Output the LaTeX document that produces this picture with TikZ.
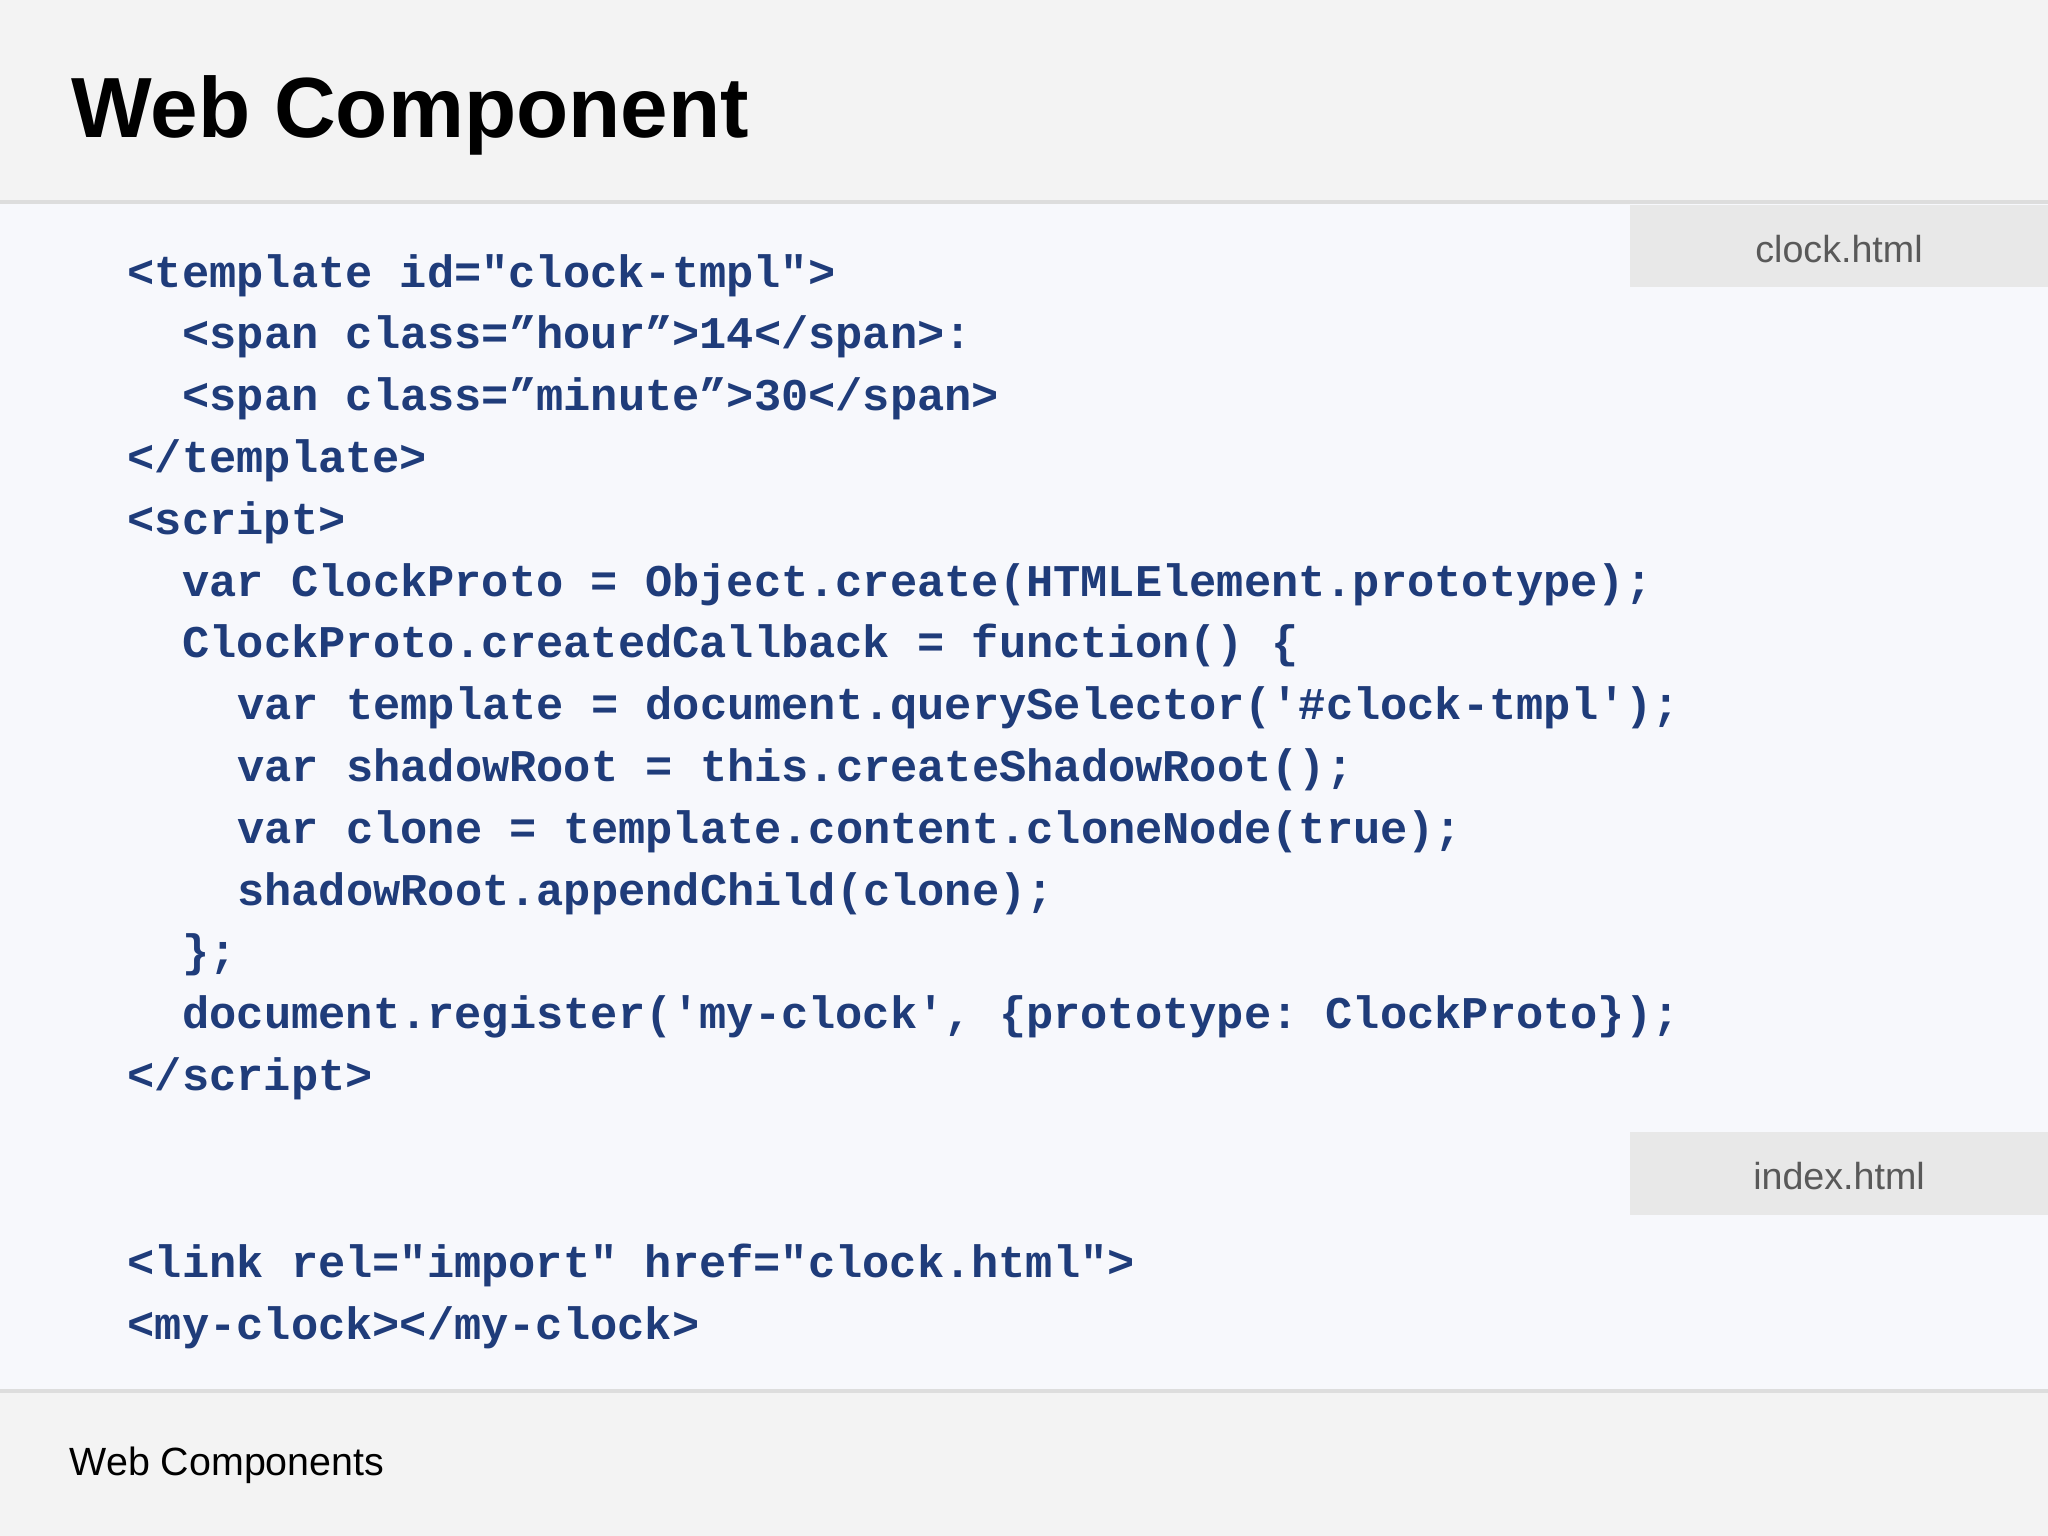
\documentclass[tikz,border=0pt]{standalone}
\usepackage{fontspec}
\setmainfont{Liberation Sans}
\setmonofont{Liberation Mono}[Ligatures=ResetAll]
\definecolor{codeblue}{HTML}{1F3C7A}
\definecolor{bodybg}{HTML}{F7F8FC}
\definecolor{headbg}{HTML}{F3F3F3}
\definecolor{tabbg}{HTML}{E8E8E8}
\definecolor{rulec}{HTML}{DDDDDD}
\begin{document}
\begin{tikzpicture}[x=0.01cm,y=-0.01cm,
  code/.style={anchor=base west,inner sep=0,font=\fontsize{12.9}{15}\ttfamily\bfseries,text=codeblue},
  tab/.style={fill=tabbg,draw=none},
  tabtext/.style={font=\fontsize{10.7}{12}\selectfont,text=black!65,inner sep=0}]
\useasboundingbox (0,0) rectangle (2048,1536);
\fill[headbg] (0,0) rectangle (2048,202);
\fill[bodybg] (0,202) rectangle (2048,1391);
\fill[headbg] (0,1391) rectangle (2048,1536);
\draw[rulec,line width=1pt] (0,202) -- (2048,202);
\draw[rulec,line width=1pt] (0,1391) -- (2048,1391);
\node[anchor=base west,inner sep=0,font=\fontsize{24.3}{28}\selectfont\bfseries] (title) at (71,137) {Web Component};
\node[anchor=base west,inner sep=0,font=\fontsize{11.2}{13}\selectfont] (foot) at (69,1475) {Web Components};
\fill[tab] (1630,205) rectangle (2048,287);
\node[tabtext,anchor=base] (t1) at (1839,262) {clock.html};
\fill[tab] (1630,1132) rectangle (2048,1215);
\node[tabtext,anchor=base] (t2) at (1839,1189) {index.html};
\def\cw{27.4}
\def\lh{61.8}
\foreach \i/\ind/\txt in {
 0/0/{<template id="clock-tmpl">},
 1/2/{<span class=”hour”>14</span>:},
 2/2/{<span class=”minute”>30</span>},
 3/0/{</template>},
 4/0/{<script>},
 5/2/{var ClockProto = Object.create(HTMLElement.prototype);},
 6/2/{ClockProto.createdCallback = function() \{},
 7/4/{var template = document.querySelector('\#clock-tmpl');},
 8/4/{var shadowRoot = this.createShadowRoot();},
 9/4/{var clone = template.content.cloneNode(true);},
 10/4/{shadowRoot.appendChild(clone);},
 11/2/{\};},
 12/2/{document.register('my-clock', \{prototype: ClockProto\});},
 13/0/{</script>}}
 \node[code] (c\i) at ({127+\ind*\cw},{287+\i*\lh}) {\txt};
\node[code] (l1) at (127,1277) {<link rel="import" href="clock.html">};
\node[code] (l2) at (127,1339) {<my-clock></my-clock>};
\end{tikzpicture}
\end{document}
